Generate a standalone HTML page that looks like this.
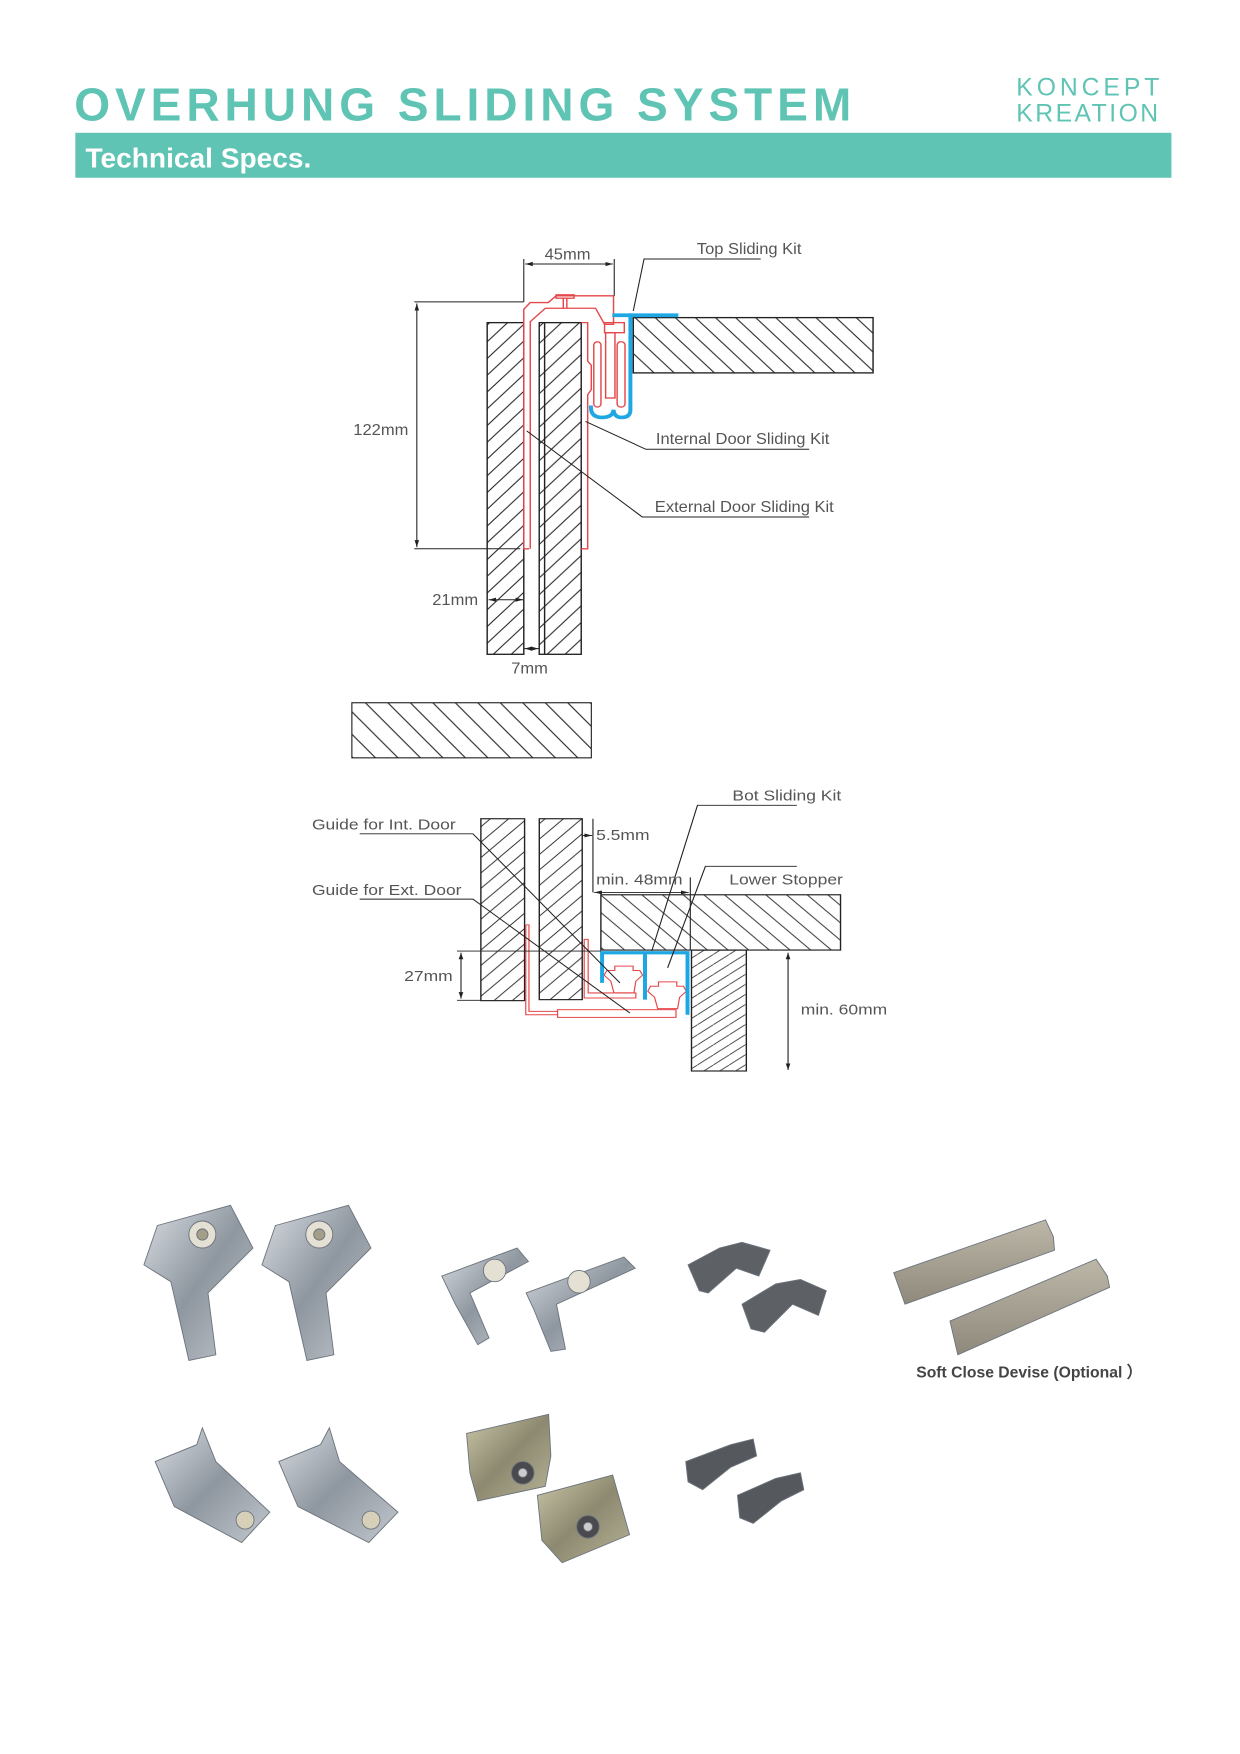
<!DOCTYPE html>
<html><head><meta charset="utf-8"><style>
html,body{margin:0;padding:0;background:#fff}
svg{display:block}
</style></head><body>
<svg width="1240" height="1754" viewBox="0 0 1103 1560" xmlns="http://www.w3.org/2000/svg" font-family="Liberation Sans, sans-serif">
<defs>
<pattern id="h1" patternUnits="userSpaceOnUse" width="50" height="50"><path d="M0,50 L50,0 M-10,10 L10,-10 M40,60 L60,40" stroke="#222" stroke-width="3"/></pattern>
<pattern id="h2" patternUnits="userSpaceOnUse" width="56" height="56"><path d="M0,0 L56,56 M-10,46 L10,66 M46,-10 L66,10" stroke="#222" stroke-width="3"/></pattern>
<pattern id="h3" patternUnits="userSpaceOnUse" width="46" height="46"><path d="M0,46 L46,0 M-10,10 L10,-10 M36,56 L56,36" stroke="#222" stroke-width="2.4"/></pattern>
<pattern id="h4" patternUnits="userSpaceOnUse" width="52" height="52"><path d="M0,0 L52,52 M-10,42 L10,62 M42,-10 L62,10" stroke="#222" stroke-width="2.4"/></pattern>
<pattern id="h5" patternUnits="userSpaceOnUse" width="20" height="20"><path d="M0,0 L20,20 M-10,10 L10,30 M10,-10 L30,10" stroke="#222" stroke-width="1"/></pattern>
<pattern id="h6" patternUnits="userSpaceOnUse" width="40" height="30"><path d="M0,30 L40,0" stroke="#222" stroke-width="2.2"/></pattern>
<linearGradient id="met" x1="0" y1="0" x2="1" y2="1"><stop offset="0" stop-color="#d9dde2"/><stop offset="0.5" stop-color="#8e969f"/><stop offset="1" stop-color="#c3c8ce"/></linearGradient>
<linearGradient id="brz" x1="0" y1="0" x2="1" y2="1"><stop offset="0" stop-color="#c9c6a8"/><stop offset="0.5" stop-color="#8c8970"/><stop offset="1" stop-color="#b7b398"/></linearGradient>
<linearGradient id="bar" x1="0" y1="0" x2="0" y2="1"><stop offset="0" stop-color="#bdb7a8"/><stop offset="1" stop-color="#8f897c"/></linearGradient>
<marker id="ar" viewBox="0 0 10 10" refX="10" refY="5" markerWidth="7" markerHeight="7" orient="auto-start-reverse"><path d="M0,2 L10,5 L0,8 Z" fill="#222"/></marker>
</defs>

<!-- header -->
<text x="66" y="107" font-size="41" font-weight="bold" fill="#5fc4b4" letter-spacing="4.4">OVERHUNG SLIDING SYSTEM</text>
<text x="904" y="85" font-size="22" fill="#5fc4b4" letter-spacing="3.5">KONCEPT</text>
<text x="904" y="108" font-size="22" fill="#5fc4b4" letter-spacing="2.2">KREATION</text>
<rect x="67" y="118" width="975" height="40" fill="#5fc4b4"/>
<text x="76" y="149" font-size="25" font-weight="bold" fill="#fff">Technical Specs.</text>

<!-- top diagram (zoom coords) -->
<g transform="translate(293.5,196) scale(0.3193,0.298)" fill="none">
 <rect x="438" y="305" width="102" height="990" fill="url(#h1)" stroke="#222" stroke-width="4"/>
 <rect x="583" y="305" width="117" height="990" fill="url(#h1)" stroke="#222" stroke-width="4"/>
 <line x1="598" y1="305" x2="598" y2="1295" stroke="#222" stroke-width="4"/>
 <rect x="845" y="290" width="668" height="165" fill="url(#h2)" stroke="#222" stroke-width="4"/>
 <g stroke="#e5474a" stroke-width="4">
  <path d="M555,980 H540 V265 L558,245 H608 L630,225 H790 V310 H765 L740,262 H600 L558,302 V980"/>
  <rect x="630" y="222" width="50" height="10"/><path d="M650,232 V262 M660,232 V262"/>
  <path d="M700,980 H718 V520 L728,505 V432 L718,420 V305 H700"/>
  <rect x="765" y="305" width="55" height="30"/>
  <rect x="768" y="335" width="26" height="195"/>
  <rect x="735" y="362" width="20" height="195" rx="10"/>
  <rect x="800" y="362" width="22" height="195" rx="10"/>
 </g>
 <g stroke="#1ea7e3" stroke-width="11" stroke-linecap="square">
  <path d="M792,283 H965"/>
  <path d="M837,283 V565 Q837,588 812,588 Q792,588 790,565 Q788,588 758,588 Q727,588 727,558"/>
 </g>
 <g stroke="#222" stroke-width="3">
  <path d="M540,115 V243 M792,115 V225"/>
  <line x1="544" y1="130" x2="788" y2="130" marker-start="url(#ar)" marker-end="url(#ar)"/>
  <path d="M235,243 H540 M235,980 H530"/>
  <line x1="242" y1="248" x2="242" y2="975" marker-start="url(#ar)" marker-end="url(#ar)"/>
  <line x1="442" y1="1132" x2="538" y2="1132" marker-start="url(#ar)" marker-end="url(#ar)"/>
  <line x1="542" y1="1278" x2="581" y2="1278" marker-start="url(#ar)" marker-end="url(#ar)"/>
  <path d="M845,270 L875,115 H1200"/>
  <path d="M712,600 L880,683 H1335"/>
  <path d="M548,628 L870,885 H1335"/>
 </g>
 <g fill="#555" font-size="46" stroke="none">
  <text x="598" y="117">45mm</text>
  <text x="65" y="640">122mm</text>
  <text x="285" y="1148">21mm</text>
  <text x="505" y="1352">7mm</text>
  <text x="1022" y="100">Top Sliding Kit</text>
  <text x="908" y="668">Internal Door Sliding Kit</text>
  <text x="905" y="870">External Door Sliding Kit</text>
 </g>
</g>

<!-- lower slab -->
<rect x="313" y="625" width="213" height="49" fill="url(#h5)" stroke="#222" stroke-width="1"/>

<!-- bottom diagram (zoom3 coords) -->
<g transform="translate(266.9,679) scale(0.3535,0.298)" fill="none">
 <rect x="455" y="165" width="110" height="543" fill="url(#h3)" stroke="#222" stroke-width="3.5"/>
 <rect x="602" y="165" width="108" height="540" fill="url(#h3)" stroke="#222" stroke-width="3.5"/>
 <rect x="757" y="392" width="603" height="165" fill="url(#h4)" stroke="#222" stroke-width="3.5"/>
 <rect x="985" y="557" width="138" height="361" fill="url(#h6)" stroke="#222" stroke-width="3.5"/>
 <g stroke="#e5474a" stroke-width="3">
  <path d="M568,482 H576 V740 H648"/><path d="M568,482 V750 H648"/>
  <rect x="648" y="735" width="298" height="23"/>
  <path d="M715,525 H725 V685 H845 V700 H715 Z"/>
  <path d="M792,605 H838 V618 H855 L862,632 L845,650 L840,685 H790 L782,650 L765,632 L772,618 H792 Z"/>
  <path d="M902,652 H948 V665 H965 L972,680 L955,698 L950,732 H900 L892,698 L875,680 L882,665 H902 Z"/>
 </g>
 <g stroke="#1ea7e3" stroke-width="10">
  <path d="M760,655 V565 H975 V750"/><path d="M868,565 V705"/>
 </g>
 <g stroke="#222" stroke-width="2.8">
  <path d="M395,560 H757 M395,707 H455"/>
  <line x1="405" y1="565" x2="405" y2="702" marker-start="url(#ar)" marker-end="url(#ar)"/>
  <line x1="712" y1="215" x2="735" y2="215" marker-end="url(#ar)"/>
  <path d="M737,165 V385"/>
  <line x1="740" y1="385" x2="978" y2="385" marker-start="url(#ar)" marker-end="url(#ar)"/>
  <path d="M982,340 V555"/>
  <path d="M1250,307 H1020 L925,610"/>
  <path d="M1250,125 H1000 L885,560"/>
  <path d="M150,210 H435 L805,655"/>
  <path d="M150,405 H435 L830,745"/>
  <line x1="1228" y1="565" x2="1228" y2="915" marker-start="url(#ar)" marker-end="url(#ar)"/>
 </g>
 <g fill="#555" font-size="44" stroke="none">
  <text x="262" y="650">27mm</text>
  <text x="745" y="228">5.5mm</text>
  <text x="745" y="362">min. 48mm</text>
  <text x="1080" y="362">Lower Stopper</text>
  <text x="1088" y="110">Bot Sliding Kit</text>
  <text x="30" y="197">Guide for Int. Door</text>
  <text x="30" y="392">Guide for Ext. Door</text>
  <text x="1260" y="750">min. 60mm</text>
 </g>
</g>

<!-- photos row 1 -->
<g stroke="#6b737c" stroke-width="0.8">
 <path d="M140,1090 L205,1072 L225,1110 L185,1150 L192,1205 L168,1210 L152,1140 L128,1125 Z" fill="url(#met)"/>
 <circle cx="180" cy="1098" r="12" fill="#e4e0d3"/><circle cx="180" cy="1098" r="5" fill="#a49e88"/>
 <path d="M245,1090 L310,1072 L330,1110 L290,1150 L297,1205 L273,1210 L257,1140 L233,1125 Z" fill="url(#met)"/>
 <circle cx="284" cy="1098" r="12" fill="#e4e0d3"/><circle cx="284" cy="1098" r="5" fill="#a49e88"/>
 <path d="M393,1135 L460,1110 L470,1122 L418,1150 L435,1190 L425,1196 L405,1160 Z" fill="url(#met)"/>
 <circle cx="440" cy="1130" r="10" fill="#e4e0d3"/>
 <path d="M468,1150 L555,1118 L565,1128 L495,1160 L503,1200 L490,1202 L475,1165 Z" fill="url(#met)"/>
 <circle cx="515" cy="1140" r="10" fill="#e4e0d3"/>
 <path d="M612,1125 L640,1110 L660,1105 L685,1112 L675,1135 L655,1128 L630,1150 L622,1148 Z" fill="#5d6166"/>
 <path d="M660,1160 L690,1142 L712,1138 L735,1148 L728,1170 L705,1160 L680,1185 L668,1182 Z" fill="#5d6166"/>
 <path d="M795,1132 L930,1085 L937,1100 L938,1112 L805,1160 Z" fill="url(#bar)"/>
 <path d="M845,1175 L975,1120 L985,1135 L987,1145 L852,1205 Z" fill="url(#bar)"/>
</g>
<text x="815" y="1225" font-size="14" font-weight="bold" fill="#444">Soft Close Devise (Optional ）</text>

<!-- photos row 2 -->
<g stroke="#6b737c" stroke-width="0.8">
 <path d="M138,1300 L175,1285 L180,1270 L192,1300 L240,1345 L215,1372 L155,1340 Z" fill="url(#met)"/>
 <circle cx="218" cy="1352" r="8" fill="#d7d0b8"/>
 <path d="M248,1300 L285,1285 L293,1270 L302,1300 L354,1345 L328,1372 L265,1340 Z" fill="url(#met)"/>
 <circle cx="330" cy="1352" r="8" fill="#d7d0b8"/>
 <path d="M415,1275 L488,1258 L490,1295 L485,1322 L425,1335 L418,1310 Z" fill="url(#brz)"/>
 <circle cx="465" cy="1310" r="10" fill="#4a4a4e"/><circle cx="465" cy="1310" r="4" fill="#ccc"/>
 <path d="M478,1330 L545,1312 L560,1365 L500,1390 L482,1370 Z" fill="url(#brz)"/>
 <circle cx="523" cy="1358" r="10" fill="#4a4a4e"/><circle cx="523" cy="1358" r="4" fill="#ccc"/>
 <path d="M610,1300 L650,1285 L670,1280 L673,1295 L650,1305 L625,1325 L612,1318 Z" fill="#55595e"/>
 <path d="M656,1330 L690,1315 L712,1310 L715,1325 L695,1335 L670,1355 L658,1350 Z" fill="#55595e"/>
</g>
</svg>
</body></html>
